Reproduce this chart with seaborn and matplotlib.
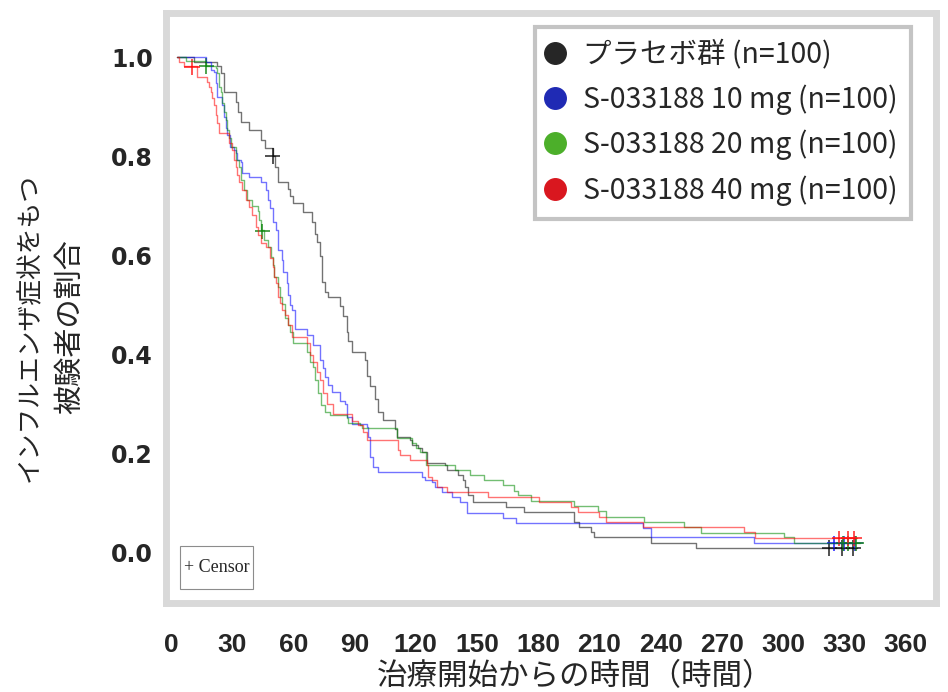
import matplotlib
matplotlib.use("Agg")
import matplotlib.pyplot as plt
from matplotlib.lines import Line2D
from matplotlib.patches import Rectangle
import seaborn as sns
import pandas as pd

# ---- data ----
groups = ["プラセボ群 (n=100)", "S-033188 10 mg (n=100)",
          "S-033188 20 mg (n=100)", "S-033188 40 mg (n=100)"]

placebo_t = [3, 11.3, 22.7, 24.6, 26.1, 32.0, 33.0, 34.5, 38.4, 44.3, 46.3, 49.8, 51.2, 52.2, 57.1,
             58.1, 59.6, 64.5, 69.0, 70.4, 71.4, 72.9, 73.9, 75.4, 76.8, 82.8, 84.2, 86.2, 86.7, 88.7,
             95.1, 96.1, 97.5, 100.0, 101.5, 103.9, 109.9, 110.8, 117.2, 118.2, 121.2, 123.2, 125.6,
             134.5, 135.5, 140.9, 142.9, 144.3, 145.8, 147.8, 164.0, 172.9, 197.5, 200.0, 205.9,
             207.4, 235.5, 257.6, 336.5]
placebo_s = [1.000, 0.990, 0.982, 0.968, 0.929, 0.909, 0.889, 0.869, 0.853, 0.832, 0.816, 0.800,
             0.778, 0.747, 0.733, 0.719, 0.705, 0.687, 0.667, 0.642, 0.626, 0.598, 0.545, 0.525,
             0.515, 0.497, 0.477, 0.444, 0.426, 0.404, 0.388, 0.356, 0.335, 0.309, 0.283, 0.267,
             0.248, 0.232, 0.226, 0.216, 0.210, 0.202, 0.180, 0.176, 0.166, 0.156, 0.145, 0.131,
             0.115, 0.101, 0.091, 0.081, 0.061, 0.051, 0.040, 0.030, 0.018, 0.008, 0.008]

mg10_t = [3, 17.2, 19.7, 21.2, 22.2, 22.7, 25.1, 26.1, 27.1, 27.6, 29.1, 31.0, 32.0, 32.5, 34.5,
          35.0, 38.4, 44.3, 46.8, 47.3, 48.3, 49.8, 51.7, 52.2, 54.2, 54.7, 56.7, 57.1, 58.1, 59.1,
          60.6, 66.5, 69.5, 72.9, 74.4, 75.4, 76.8, 78.8, 82.8, 85.2, 86.2, 88.7, 96.1, 96.6, 97.5,
          99.0, 101.5, 123.2, 124.6, 128.1, 129.6, 133.0, 137.9, 141.9, 145.3, 162.6, 169.0, 231.5,
          235.5, 285.7, 335.5]
mg10_s = [1.000, 0.990, 0.974, 0.970, 0.947, 0.919, 0.903, 0.879, 0.857, 0.842, 0.818, 0.812,
          0.806, 0.792, 0.788, 0.766, 0.758, 0.747, 0.731, 0.711, 0.695, 0.667, 0.650, 0.610,
          0.590, 0.566, 0.543, 0.519, 0.499, 0.489, 0.451, 0.438, 0.418, 0.388, 0.372, 0.354,
          0.337, 0.323, 0.305, 0.299, 0.273, 0.259, 0.253, 0.232, 0.192, 0.172, 0.162, 0.152,
          0.145, 0.141, 0.131, 0.121, 0.111, 0.101, 0.079, 0.069, 0.059, 0.048, 0.030, 0.018, 0.018]

mg20_t = [3, 7.4, 17.2, 22.2, 22.7, 23.6, 24.6, 25.1, 26.1, 27.1, 27.6, 28.6, 29.6, 32.0, 33.5,
          34.5, 36.0, 37.4, 39.9, 42.4, 43.3, 44.3, 45.8, 47.3, 48.8, 49.8, 50.7, 52.2, 53.2, 54.2,
          55.7, 57.1, 58.1, 59.6, 66.5, 68.0, 69.5, 70.4, 71.9, 73.4, 75.4, 77.8, 86.2, 86.7, 92.6,
          93.6, 110.8, 118.2, 120.2, 122.2, 125.1, 139.4, 146.8, 153.2, 162.6, 168.0, 170.0, 176.4,
          197.5, 209.4, 213.3, 232.0, 251.7, 259.6, 300.5, 305.4, 337.9]
mg20_s = [1.000, 0.992, 0.982, 0.978, 0.968, 0.939, 0.929, 0.907, 0.889, 0.873, 0.853, 0.836,
          0.818, 0.792, 0.778, 0.752, 0.731, 0.711, 0.699, 0.689, 0.671, 0.650, 0.630, 0.616,
          0.596, 0.580, 0.556, 0.535, 0.515, 0.501, 0.473, 0.459, 0.444, 0.422, 0.404, 0.384,
          0.374, 0.347, 0.321, 0.297, 0.283, 0.277, 0.271, 0.261, 0.257, 0.251, 0.230, 0.220,
          0.210, 0.202, 0.176, 0.166, 0.156, 0.145, 0.135, 0.123, 0.115, 0.103, 0.093, 0.083,
          0.071, 0.061, 0.051, 0.038, 0.030, 0.018, 0.018]

mg40_t = [3, 3.9, 6.4, 12.8, 17.7, 18.7, 19.7, 20.2, 21.2, 22.2, 22.7, 23.6, 28.6, 30.0, 31.0,
          32.0, 32.5, 33.5, 35.0, 36.9, 38.4, 39.9, 41.9, 42.4, 44.3, 46.8, 48.3, 49.8, 50.7, 51.7,
          52.2, 53.2, 54.2, 55.7, 57.1, 59.1, 66.5, 68.0, 69.5, 71.4, 72.9, 74.4, 76.4, 79.3, 88.7,
          91.6, 94.1, 96.1, 111.3, 112.3, 117.2, 125.6, 126.1, 128.1, 130.5, 135.5, 155.2, 180.3,
          196.1, 199.5, 209.9, 213.3, 231.5, 280.8, 286.2, 336.5]
mg40_s = [1.000, 0.990, 0.982, 0.960, 0.949, 0.939, 0.929, 0.917, 0.903, 0.883, 0.867, 0.846,
          0.826, 0.812, 0.792, 0.778, 0.762, 0.747, 0.731, 0.711, 0.697, 0.681, 0.657, 0.640,
          0.624, 0.616, 0.594, 0.576, 0.556, 0.543, 0.515, 0.503, 0.489, 0.479, 0.459, 0.434,
          0.422, 0.398, 0.384, 0.364, 0.347, 0.321, 0.299, 0.279, 0.265, 0.257, 0.242, 0.226,
          0.206, 0.196, 0.186, 0.176, 0.152, 0.145, 0.131, 0.121, 0.111, 0.101, 0.091, 0.081,
          0.071, 0.061, 0.051, 0.040, 0.028, 0.028]

# censored observations (+)
placebo_cens_t = [49.8, 322.7, 329.1, 334.5]
placebo_cens_s = [0.800, 0.008, 0.008, 0.008]
mg10_cens_t = [325.1, 330.0, 335.5]
mg10_cens_s = [0.018, 0.018, 0.018]
mg20_cens_t = [17.2, 44.8, 329.5, 332.0, 336.0]
mg20_cens_s = [0.982, 0.648, 0.018, 0.018, 0.018]
mg40_cens_t = [10.3, 327.6, 332.0, 335.0]
mg40_cens_s = [0.980, 0.028, 0.028, 0.028]

x_ticks = list(range(0, 361, 30))
y_ticks = [0.0, 0.2, 0.4, 0.6, 0.8, 1.0]

# ---- long-form tables ----
curve_t = [placebo_t, mg10_t, mg20_t, mg40_t]
curve_s = [placebo_s, mg10_s, mg20_s, mg40_s]
cens_t = [placebo_cens_t, mg10_cens_t, mg20_cens_t, mg40_cens_t]
cens_s = [placebo_cens_s, mg10_cens_s, mg20_cens_s, mg40_cens_s]

curves = pd.concat([pd.DataFrame({"time": t, "surv": s, "group": g})
                    for g, t, s in zip(groups, curve_t, curve_s)], ignore_index=True)
cens = pd.concat([pd.DataFrame({"time": t, "surv": s, "group": g})
                  for g, t, s in zip(groups, cens_t, cens_s)], ignore_index=True)

line_colors = dict(zip(groups, ["#000000", "#0000ff", "#008a00", "#ff0000"]))
mark_colors = dict(zip(groups, ["#222222", "#2020ff", "#1f8a1f", "#ff2020"]))
legend_colors = ["#262626", "#1f2ab4", "#4caf2a", "#d9171f"]

# ---- figure ----
sns.set_style("white")
plt.rcParams["font.family"] = ["Noto Sans CJK JP", "DejaVu Sans"]

fig = plt.figure(figsize=(9.48, 6.92), dpi=100)
ax = fig.add_axes([0.1746, 0.1293, 0.8127, 0.8512])

sns.lineplot(data=curves, x="time", y="surv", hue="group", palette=line_colors,
             drawstyle="steps-post", estimator=None, sort=False, linewidth=1.0,
             alpha=0.55, legend=False, ax=ax)
sns.scatterplot(data=cens, x="time", y="surv", hue="group", palette=mark_colors,
                marker="+", s=120, linewidth=1.1, legend=False, ax=ax)

ax.set_xlim(-2.7, 375.0)
ax.set_ylim(-0.102, 1.088)
ax.set_xticks(x_ticks)
ax.set_yticks(y_ticks)
ax.set_yticklabels([f"{v:.1f}" for v in y_ticks])
ax.set_xlabel("")
ax.set_ylabel("")
ax.tick_params(axis="both", length=0)
ax.tick_params(axis="x", pad=22)
ax.tick_params(axis="y", pad=9)
for lbl in ax.get_xticklabels():
    lbl.set_fontfamily("Liberation Sans")
    lbl.set_fontweight("bold")
    lbl.set_fontsize(19)
for lbl in ax.get_yticklabels():
    lbl.set_fontfamily("DejaVu Sans")
    lbl.set_fontweight("bold")
    lbl.set_fontsize(17)

# thick light grey frame
for sp in ax.spines.values():
    sp.set_visible(True)
    sp.set_color("#d9d9d9")
    sp.set_linewidth(5.0)
    sp.set_capstyle("projecting")

# axis titles
fig.text(30 / 948, 1 - 327 / 692, "インフルエンザ症状をもつ", rotation=90,
         ha="center", va="center", fontsize=18.5)
fig.text(70 / 948, 1 - 327 / 692, "被験者の割合", rotation=90,
         ha="center", va="center", fontsize=21)
fig.text(575 / 948, 1 - 677 / 692, "治療開始からの時間（時間）",
         ha="center", va="center", fontsize=22)

# censor key box
fig.add_artist(Rectangle((180 / 948, 1 - 589 / 692), 73 / 948, 43 / 692,
                         transform=fig.transFigure, fc="white", ec="#8c8c8c", lw=0.8))
fig.text(216.5 / 948, 1 - 567.5 / 692, "+ Censor", ha="center", va="center",
         fontsize=13, family="Liberation Serif")

# legend
handles = [Line2D([], [], marker="o", linestyle="none", markersize=15.5,
                  markerfacecolor=c, markeredgecolor=c) for c in legend_colors]
leg = fig.legend(handles, groups, loc="upper left",
                 bbox_to_anchor=(535 / 948, 1 - 27 / 692), bbox_transform=fig.transFigure,
                 fontsize=20.5, frameon=True, fancybox=False, framealpha=1,
                 borderpad=0.45, handlelength=0.5, handletextpad=0.75, labelspacing=0.52,
                 borderaxespad=0)
leg.get_frame().set_edgecolor("#c4c4c4")
leg.get_frame().set_linewidth(3)

fig.savefig("out.png", dpi=100)
